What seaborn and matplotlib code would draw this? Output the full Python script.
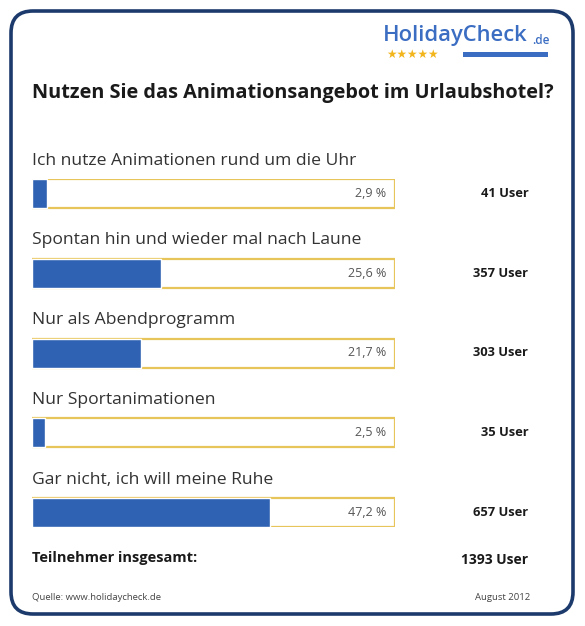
import matplotlib
matplotlib.use("Agg")
import matplotlib.pyplot as plt
import seaborn as sns
import pandas as pd
from matplotlib.patches import FancyBboxPatch, Rectangle

antworten = [
    "Ich nutze Animationen rund um die Uhr",
    "Spontan hin und wieder mal nach Laune",
    "Nur als Abendprogramm",
    "Nur Sportanimationen",
    "Gar nicht, ich will meine Ruhe",
]
prozent = [2.9, 25.6, 21.7, 2.5, 47.2]
user = [41, 357, 303, 35, 657]
gesamt = 1393

sns.set_style("white")
plt.rcParams["font.family"] = ["Open Sans", "DejaVu Sans"]

W, H = 585, 626
fig = plt.figure(figsize=(W / 100, H / 100), dpi=100)
fig.patch.set_facecolor("white")

# Rahmen / Texte in Pixelkoordinaten
bg = fig.add_axes([0, 0, 1, 1])
bg.set_xlim(0, W)
bg.set_ylim(H, 0)
bg.axis("off")

bg.add_patch(FancyBboxPatch((11, 11), W - 22 - 1, H - 22 - 1,
                            boxstyle="round,pad=0,rounding_size=22",
                            fc="white", ec="#1d3a6c", lw=2.6))

# Logo
bg.text(383, 36, "HolidayCheck", color="#3b6dc2", fontsize=15.8,
        va="center", ha="left", family="Open Sans", fontweight="semibold")
bg.text(532, 40, ".de", color="#3b6dc2", fontsize=8.5, va="center", ha="left",
        fontweight="semibold")
bg.text(386, 54, "★★★★★", color="#f2b51c", fontsize=8.5, va="center", ha="left",
        family="DejaVu Sans")
bg.add_patch(Rectangle((463, 52), 85, 4.5, color="#3b6dc2", lw=0))

bg.text(32, 93, "Nutzen Sie das Animationsangebot im Urlaubshotel?",
        fontsize=14.3, fontweight="bold", color="#1a1a1a", va="center", ha="left")

# Balken
ax = fig.add_axes([32 / W, 1 - 527 / H, (395 - 32) / W, (527 - 179) / H])
df = pd.DataFrame({"Antwort": antworten, "Prozent": prozent})
w = 29 / 79.75
xmax = 72
ax.barh(range(len(antworten)), [xmax] * len(antworten), height=w,
        color="white", edgecolor="#e8c55a", lw=1.6, zorder=1)
sns.barplot(data=df, x="Prozent", y="Antwort", orient="h", color="#2f62b3",
            width=w, saturation=1, ax=ax, zorder=2)
ax.set_xlim(0, xmax)
ax.set_ylim(len(antworten) - 1 + w / 2, -w / 2)
ax.axis("off")

for i, (a, p, u) in enumerate(zip(antworten, prozent, user)):
    ax.text(xmax * 0.975, i, f"{p:.1f} %".replace(".", ","), ha="right",
            va="center", fontsize=9, color="#555555", zorder=3)
    ax.annotate(a, xy=(0, i - w / 2), xytext=(0, 7.5), textcoords="offset points",
                ha="left", va="bottom", fontsize=12.6, color="#333333",
                annotation_clip=False)
    ax.annotate(f"{u} User", xy=(xmax, i), xytext=(96, 0),
                textcoords="offset points", ha="right", va="center",
                fontsize=9.3, fontweight="bold", color="#1a1a1a",
                annotation_clip=False)

bg.text(32, 558, "Teilnehmer insgesamt:", fontsize=10.5, fontweight="bold",
        color="#1a1a1a", va="center", ha="left")
bg.text(528, 560, f"{gesamt} User", fontsize=10, fontweight="bold",
        color="#1a1a1a", va="center", ha="right")
bg.text(32, 597, "Quelle: www.holidaycheck.de", fontsize=6.8, color="#444444",
        va="center", ha="left")
bg.text(530, 597, "August 2012", fontsize=6.8, color="#444444",
        va="center", ha="right")

fig.savefig("out.png", dpi=100, facecolor="white")
